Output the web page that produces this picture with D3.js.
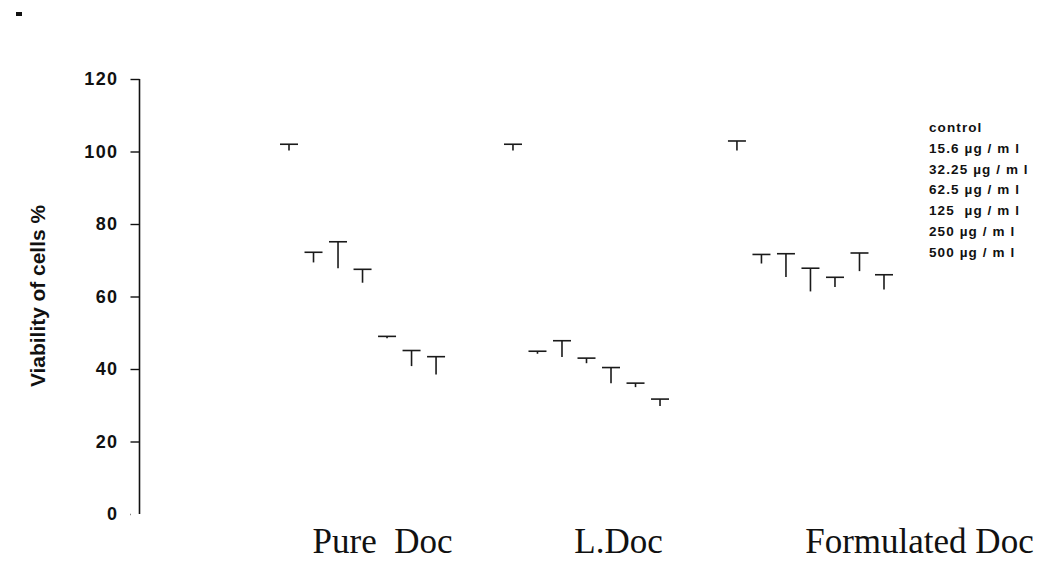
<!DOCTYPE html>
<html>
<head>
<meta charset="utf-8">
<script src="https://cdn.jsdelivr.net/npm/d3@7"></script>
<style>
  body { margin: 0; background: #fff; }
  svg { display: block; }
</style>
</head>
<body>
<script>
// groups on the x axis and the concentrations inside each group
var groups = ["Pure Doc", "L.Doc", "Formulated Doc"];
var series = ["control", "15.6 µg / m l", "32.25 µg / m l", "62.5 µg / m l",
              "125  µg / m l", "250 µg / m l", "500 µg / m l"];

// viability means (bar tops) and SD (error bar length)
var pureMean = [100.3, 69.4, 67.8, 63.8, 48.5, 40.8, 38.5];
var pureSD   = [1.7, 2.8, 7.3, 3.7, 0.5, 4.3, 4.9];
var lMean    = [100.3, 44.2, 43.3, 41.6, 36.1, 35.0, 29.8];
var lSD      = [1.7, 0.7, 4.5, 1.4, 4.3, 1.1, 1.9];
var fMean    = [100.3, 69.1, 65.4, 61.4, 62.6, 67.0, 61.9];
var fSD      = [2.6, 2.5, 6.4, 6.4, 2.7, 5.0, 4.1];

var yTicks = [0, 20, 40, 60, 80, 100, 120];

var means = [pureMean, lMean, fMean];
var sds = [pureSD, lSD, fSD];

var width = 1055, height = 562;

var svg = d3.select("body").append("svg")
    .attr("width", width)
    .attr("height", height);

// scales
var y = d3.scaleLinear().domain([0, 120]).range([514, 79]);

var x0 = d3.scaleBand()
    .domain(groups)
    .range([276.75, 896.25])
    .paddingInner(0.234)
    .paddingOuter(0);

var x1 = d3.scaleBand()
    .domain(series)
    .range([0, x0.bandwidth()]);

// flat table for drawing
var table = [];
groups.forEach(function(g, gi) {
    series.forEach(function(s, si) {
        table.push({group: g, series: s, mean: means[gi][si], sd: sds[gi][si]});
    });
});

// tiny mark in the corner
svg.append("rect")
    .attr("x", 16).attr("y", 12)
    .attr("width", 6).attr("height", 4)
    .attr("fill", "#111");

// y axis
var yAxis = svg.append("g")
    .attr("transform", "translate(139.5,0)")
    .call(d3.axisLeft(y).tickValues(yTicks).tickSize(9).tickPadding(12));

yAxis.select(".domain")
    .attr("d", "M0," + y(120) + "V" + y(0))
    .attr("stroke", "#111")
    .attr("stroke-width", 1.6);

yAxis.selectAll(".tick line")
    .attr("stroke", "#111")
    .attr("stroke-width", 1.4)
    .filter(function(d) { return d === 0; })
    .attr("x1", -9).attr("x2", -8.5);

yAxis.selectAll(".tick text")
    .attr("fill", "#111")
    .style("font-family", "Liberation Sans, Arial, sans-serif")
    .style("font-weight", "bold")
    .style("font-size", "18px")
    .style("letter-spacing", "1.4px");

// y axis title
svg.append("text")
    .attr("transform", "translate(45," + 296 + ") rotate(-90)")
    .attr("text-anchor", "middle")
    .attr("textLength", 182)
    .attr("lengthAdjust", "spacingAndGlyphs")
    .style("font-family", "Liberation Sans, Arial, sans-serif")
    .style("font-weight", "bold")
    .style("font-size", "21px")
    .attr("fill", "#111")
    .text("Viability of cells %");

// bars (white fill, as in the original)
var bars = svg.append("g");
bars.selectAll("rect")
    .data(table)
    .enter()
    .append("rect")
      .attr("x", function(d) { return x0(d.group) + x1(d.series) + 3; })
      .attr("width", x1.bandwidth() - 6)
      .attr("y", function(d) { return y(d.mean); })
      .attr("height", function(d) { return y(0) - y(d.mean); })
      .attr("fill", "#fff");

// error bars: stem from mean up to mean + sd, cap on top
var capW = 18;
var err = svg.append("g")
    .attr("stroke", "#1a1a1a")
    .attr("stroke-width", 1.6);

err.selectAll(".stem")
    .data(table)
    .enter()
    .append("line")
      .attr("class", "stem")
      .attr("x1", function(d) { return x0(d.group) + x1(d.series) + x1.bandwidth() / 2; })
      .attr("x2", function(d) { return x0(d.group) + x1(d.series) + x1.bandwidth() / 2; })
      .attr("y1", function(d) { return y(d.mean); })
      .attr("y2", function(d) { return y(d.mean + d.sd); });

err.selectAll(".cap")
    .data(table)
    .enter()
    .append("line")
      .attr("class", "cap")
      .attr("x1", function(d) { return x0(d.group) + x1(d.series) + x1.bandwidth() / 2 - capW / 2; })
      .attr("x2", function(d) { return x0(d.group) + x1(d.series) + x1.bandwidth() / 2 + capW / 2; })
      .attr("y1", function(d) { return y(d.mean + d.sd); })
      .attr("y2", function(d) { return y(d.mean + d.sd); });

// group labels under the chart
var labelShift = [20, 32, 109];
svg.append("g")
    .selectAll("text")
    .data(groups)
    .enter()
    .append("text")
      .attr("x", function(d, i) { return x0(d) + x0.bandwidth() / 2 + labelShift[i]; })
      .attr("y", 553)
      .attr("text-anchor", "middle")
      .style("font-family", "Liberation Serif, 'Times New Roman', serif")
      .style("font-size", "35px")
      .style("white-space", "pre")
      .attr("fill", "#111")
      .text(function(d) { return d === "Pure Doc" ? "Pure  Doc" : d; });

// legend (text only, bars have no fill)
svg.append("g")
    .selectAll("text")
    .data(series)
    .enter()
    .append("text")
      .attr("x", 929)
      .attr("y", function(d, i) { return 132 + i * 20.8; })
      .style("font-family", "Liberation Sans, Arial, sans-serif")
      .style("font-weight", "bold")
      .style("font-size", "13.5px")
      .style("letter-spacing", "1.1px")
      .style("white-space", "pre")
      .attr("fill", "#111")
      .text(function(d) { return d; });
</script>
</body>
</html>
